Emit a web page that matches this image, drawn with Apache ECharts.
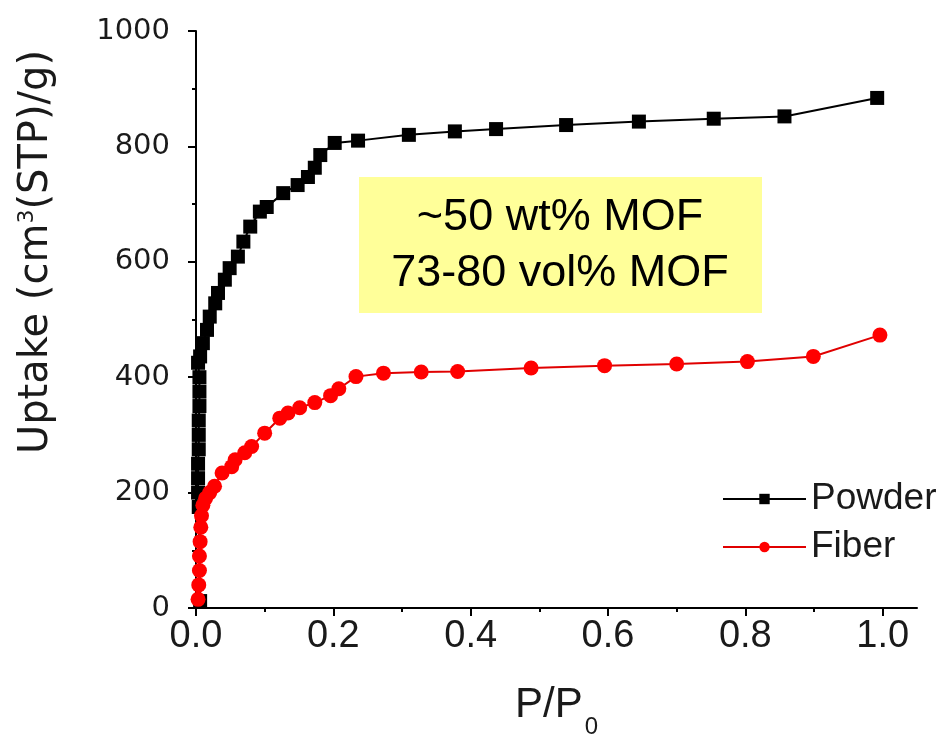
<!DOCTYPE html>
<html>
<head>
<meta charset="utf-8">
<script src="https://cdn.jsdelivr.net/npm/echarts@6/dist/echarts.min.js"></script>
<style>
html,body{margin:0;padding:0;background:#fff;}
#chart{width:946px;height:740px;}
</style>
</head>
<body>
<div id="chart"></div>
<script>
// ---- Data ----
const seriesNames = ['Powder', 'Fiber'];
const powderP = [0.006,0.004,0.003,0.003,0.003,0.004,0.004,0.004,0.005,0.005,0.005,0.003,0.006,0.010,0.016,0.020,0.028,0.032,0.042,0.049,0.061,0.069,0.079,0.093,0.103,0.127,0.148,0.163,0.173,0.181,0.202,0.236,0.310,0.377,0.437,0.539,0.645,0.754,0.857,0.992];
const powderUptake = [12,175,200,225,250,275,300,325,350,375,400,425,436,459,482,505,528,546,569,589,609,635,661,687,695,719,733,747,763,785,806,810,820,826,830,837,843,848,852,884];
const fiberP = [0.003,0.004,0.005,0.005,0.006,0.007,0.008,0.010,0.014,0.020,0.027,0.038,0.052,0.057,0.071,0.081,0.100,0.122,0.134,0.151,0.173,0.196,0.208,0.233,0.273,0.328,0.381,0.488,0.595,0.700,0.803,0.899,0.996];
const fiberUptake = [15,40,65,90,115,140,160,178,190,200,211,234,245,257,269,280,303,329,338,347,356,368,380,401,407,409,410,416,420,423,427,436,473];
const xMajorTicks = [0.0,0.2,0.4,0.6,0.8,1.0];
const xMinorTicks = [0.1,0.3,0.5,0.7,0.9];
const annotationLines = ['~50 wt% MOF', '73-80 vol% MOF'];

const zip = (a, b) => a.map((v, i) => [v, b[i]]);

const chart = echarts.init(document.getElementById('chart'), null, {renderer: 'canvas'});
const txt = '#1a1a1a';
const axisLineStyle = {color: '#000', width: 2};
const ff = '"Liberation Sans", Arial, sans-serif';
const ffWide = '"DejaVu Sans", "Liberation Sans", sans-serif';

const option = {
  animation: false,
  backgroundColor: '#fff',
  grid: {left: 196, top: 31, right: 29, bottom: 132, containLabel: false, outerBoundsMode: 'none'},
  legend: {
    data: seriesNames,
    orient: 'vertical',
    left: 717,
    top: 474,
    itemWidth: 83,
    itemHeight: 13,
    itemGap: 8,
    textStyle: {fontFamily: ff, fontSize: 37, color: txt, lineHeight: 40}
  },
  xAxis: [
    {
      type: 'value', min: 0, max: 1.05,
      position: 'bottom',
      name: '{a|P/P}{b|0}',
      nameLocation: 'middle',
      nameGap: 74,
      nameTextStyle: {
        rich: {
          a: {fontFamily: ff, fontSize: 42, color: txt, lineHeight: 46},
          b: {fontFamily: ff, fontSize: 24, color: txt, lineHeight: 46, padding: [44, 0, 0, 2]}
        }
      },
      axisLine: {show: true, lineStyle: axisLineStyle},
      axisTick: {show: true, inside: false, length: 8, lineStyle: {color: '#000', width: 2}, customValues: xMajorTicks},
      axisLabel: {
        customValues: xMajorTicks,
        formatter: v => v.toFixed(1),
        margin: 10,
        fontFamily: ff,
        fontSize: 38,
        color: txt
      },
      splitLine: {show: false}
    },
    {
      type: 'value', min: 0, max: 1.05,
      position: 'bottom',
      axisLine: {show: false},
      axisTick: {show: true, length: 4, lineStyle: {color: '#000', width: 2}, customValues: xMinorTicks},
      axisLabel: {show: false},
      splitLine: {show: false}
    }
  ],
  yAxis: {
    type: 'value', min: 0, max: 1000, interval: 200,
    name: '{a|Uptake (cm}{s|3}{a|(STP)/g)}',
    nameLocation: 'middle',
    nameGap: 137,
    nameTextStyle: {
      padding: [0, 0, 0, 135],
      rich: {
        a: {fontFamily: ffWide, fontSize: 40, color: txt, lineHeight: 44},
        s: {fontFamily: ffWide, fontSize: 22, color: txt, lineHeight: 44, padding: [0, 0, 20, 0]}
      }
    },
    axisLine: {show: true, lineStyle: axisLineStyle},
    axisTick: {show: true, inside: false, length: 8, lineStyle: {color: '#000', width: 2}},
    minorTick: {show: true, splitNumber: 2, length: 4, lineStyle: {color: '#000', width: 2}},
    axisLabel: {margin: 26, formatter: v => String(v), fontFamily: ffWide, fontSize: 29, color: txt},
    splitLine: {show: false}
  },
  graphic: [
    {
      type: 'rect', left: 359, top: 177, z: 1,
      shape: {width: 403, height: 136},
      style: {fill: '#FFFF99'}
    },
    {
      type: 'text', z: 2,
      x: 560, y: 190,
      style: {
        text: annotationLines.join('\n'),
        align: 'center',
        verticalAlign: 'top',
        font: '45px "Liberation Sans", Arial, sans-serif',
        lineHeight: 56,
        fill: '#000'
      }
    }
  ],
  series: [
    {
      name: 'Powder', type: 'line',
      data: zip(powderP, powderUptake),
      symbol: 'rect', symbolSize: 14,
      itemStyle: {color: '#000'},
      lineStyle: {color: '#000', width: 2},
      z: 3
    },
    {
      name: 'Fiber', type: 'line',
      data: zip(fiberP, fiberUptake),
      symbol: 'circle', symbolSize: 15,
      itemStyle: {color: '#ff0000'},
      lineStyle: {color: '#e00000', width: 2},
      z: 4
    }
  ]
};
chart.setOption(option);
</script>
</body>
</html>
